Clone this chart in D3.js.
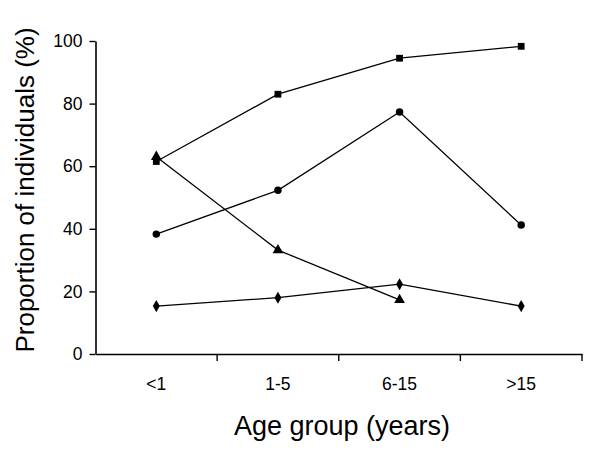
<!DOCTYPE html>
<html>
<head>
<meta charset="utf-8">
<script src="https://cdn.jsdelivr.net/npm/d3@7"></script>
<style>
  html, body { margin: 0; padding: 0; background: #fff; }
  svg { display: block; font-family: "Liberation Sans", Arial, sans-serif; }
</style>
</head>
<body>
<svg id="chart" width="600" height="461"></svg>
<script>
const categories = ["<1", "1-5", "6-15", ">15"];
const squareValues = [61.5, 83, 94.5, 98.3];
const circleValues = [38.3, 52.3, 77.3, 41.2];
const triangleValues = [63, 33.2, 17.3, null];
const diamondValues = [15.3, 18, 22.3, 15.3];
const yTicks = [0, 20, 40, 60, 80, 100];
const xTitle = "Age group (years)";
const yTitle = "Proportion of individuals (%)";

const series = [
  { name: "squares", values: squareValues, symbol: d3.symbolSquare, size: 46 },
  { name: "circles", values: circleValues, symbol: d3.symbolCircle, size: 44 },
  { name: "triangles", values: triangleValues, symbol: d3.symbolTriangle, size: 50 },
  { name: "diamonds", values: diamondValues, symbol: d3.symbolDiamond, size: 42 }
];

const svg = d3.select("#chart");
const plotLeft = 95.5, plotRight = 582, plotTop = 41, plotBottom = 354;

const x = d3.scaleBand().domain(categories).range([plotLeft, plotRight]).paddingInner(0).paddingOuter(0);
const y = d3.scaleLinear().domain([0, 100]).range([plotBottom, plotTop]);

// Y axis
const yAxis = svg.append("g")
  .attr("transform", `translate(${plotLeft},0)`)
  .call(d3.axisLeft(y).tickValues(yTicks).tickSize(6).tickPadding(7).tickSizeOuter(0));
yAxis.select(".domain").attr("stroke", "#000").attr("stroke-width", 1.6);
yAxis.selectAll(".tick line").attr("stroke", "#000").attr("stroke-width", 1.4);
yAxis.selectAll(".tick text").attr("font-size", 17.5).attr("fill", "#000")
  .attr("font-family", "Liberation Sans, Arial, sans-serif");

// X axis: labels at band centers, ticks at band boundaries
const xAxis = svg.append("g")
  .attr("transform", `translate(0,${plotBottom})`)
  .call(d3.axisBottom(x).tickSize(0).tickPadding(24).tickSizeOuter(0));
xAxis.select(".domain").attr("stroke", "#000").attr("stroke-width", 1.6);
xAxis.selectAll(".tick text").attr("font-size", 17.5).attr("fill", "#000")
  .attr("font-family", "Liberation Sans, Arial, sans-serif");
const boundaries = categories.map(c => x(c) + x.bandwidth());
xAxis.selectAll("line.bound").data(boundaries).enter().append("line")
  .attr("class", "bound")
  .attr("x1", d => d).attr("x2", d => d)
  .attr("y1", 0).attr("y2", 7)
  .attr("stroke", "#000").attr("stroke-width", 1.4);

// Lines and markers
const line = d3.line()
  .defined(d => d.v != null)
  .x(d => x(d.c) + x.bandwidth() / 2)
  .y(d => y(d.v));

series.forEach(s => {
  const pts = categories.map((c, i) => ({ c, v: s.values[i] }));
  svg.append("path")
    .datum(pts)
    .attr("fill", "none")
    .attr("stroke", "#000")
    .attr("stroke-width", 1.3)
    .attr("d", line);
  svg.selectAll(null)
    .data(pts.filter(d => d.v != null))
    .enter().append("path")
    .attr("transform", d => `translate(${x(d.c) + x.bandwidth() / 2},${y(d.v)})`)
    .attr("d", d3.symbol().type(s.symbol).size(s.size))
    .attr("fill", "#000");
});

// Titles
svg.append("text")
  .attr("x", 342).attr("y", 435)
  .attr("text-anchor", "middle")
  .attr("font-size", 27)
  .attr("fill", "#000")
  .text(xTitle);

svg.append("text")
  .attr("transform", "translate(34,190) rotate(-90)")
  .attr("text-anchor", "middle")
  .attr("font-size", 26)
  .attr("fill", "#000")
  .text(yTitle);
</script>
</body>
</html>
